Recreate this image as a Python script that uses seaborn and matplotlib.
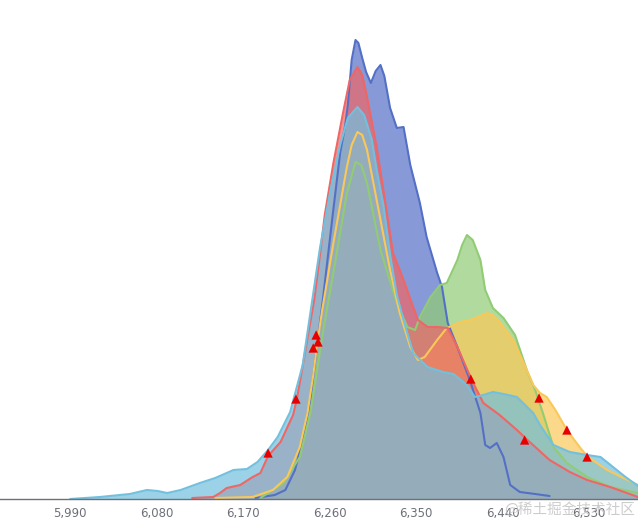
import numpy as np
import pandas as pd
import matplotlib
matplotlib.use('Agg')
import matplotlib.pyplot as plt
import seaborn as sns
from matplotlib.ticker import FuncFormatter

# series (x = value, y = frequency, arbitrary units)
blue_x = [6183, 6203, 6214, 6224, 6232, 6240, 6247, 6253, 6263, 6271, 6276, 6279, 6283, 6287, 6290,
          6294, 6298, 6303, 6308, 6313, 6317, 6323, 6330, 6337, 6344, 6354, 6361, 6372, 6377, 6383,
          6393, 6406, 6417, 6422, 6427, 6434, 6441, 6448, 6458, 6474, 6489]
blue_y = [0.2, 0.8, 1.8, 5.8, 11.8, 19.8, 30.8, 39.8, 56.4, 69.2, 74.4, 78.8, 87.8, 91.8, 91.2,
          88.2, 85.4, 83.2, 85.6, 86.8, 84.6, 78.2, 74.2, 74.4, 66.8, 59.2, 52.4, 45.2, 42.4, 35.2,
          30.4, 23.8, 17.2, 10.8, 10.2, 11.2, 8.4, 2.8, 1.4, 1.0, 0.6]

green_x = [6188, 6212, 6229, 6240, 6253, 6268, 6278, 6287, 6293, 6299, 6313, 6330, 6341, 6349, 6354,
           6365, 6375, 6382, 6393, 6398, 6403, 6409, 6417, 6422, 6430, 6441, 6453, 6466, 6474, 6482,
           6493, 6507, 6528, 6552, 6581]
green_y = [0.2, 3.2, 8.4, 17.2, 33.2, 49.8, 61.2, 67.4, 66.8, 63.2, 49.8, 39.2, 34.4, 33.8, 36.4,
           40.4, 42.8, 43.2, 47.8, 50.8, 52.8, 51.8, 47.8, 41.8, 38.2, 36.2, 32.8, 25.4, 21.8, 17.2,
           10.4, 7.2, 4.4, 2.4, 1.2]

yellow_x = [6141, 6180, 6201, 6216, 6229, 6237, 6243, 6247, 6252, 6264, 6278, 6283, 6289, 6294, 6299,
            6309, 6323, 6333, 6344, 6352, 6359, 6372, 6382, 6396, 6406, 6417, 6424, 6430, 6437, 6451,
            6463, 6472, 6479, 6486, 6495, 6507, 6521, 6529, 6549, 6581]
yellow_y = [0.2, 0.4, 1.8, 4.4, 10.4, 17.2, 24.8, 30.8, 37.4, 51.2, 66.4, 70.8, 73.4, 72.8, 69.8,
            59.8, 45.8, 37.2, 30.4, 27.8, 28.4, 31.8, 34.2, 35.4, 35.8, 36.6, 37.2, 36.8, 35.4, 31.8,
            26.8, 22.8, 21.2, 20.4, 17.8, 13.8, 10.2, 8.4, 5.8, 2.8]

red_x = [6117, 6139, 6146, 6153, 6167, 6180, 6188, 6196, 6209, 6222, 6226, 6238, 6244, 6250, 6255,
         6264, 6274, 6281, 6289, 6294, 6299, 6309, 6316, 6326, 6337, 6347, 6352, 6362, 6372, 6383,
         6393, 6408, 6420, 6437, 6455, 6466, 6489, 6510, 6528, 6552, 6581]
red_y = [0.2, 0.4, 1.2, 2.2, 2.8, 4.4, 5.2, 8.6, 11.4, 16.8, 20.0, 33.2, 39.8, 48.8, 56.8,
         67.2, 77.2, 83.8, 86.4, 84.8, 80.4, 70.4, 61.8, 49.2, 43.8, 38.4, 35.8, 34.4, 34.4, 34.2,
         30.4, 23.8, 19.2, 16.8, 13.8, 11.8, 7.8, 5.4, 3.8, 2.4, 0.4]

cyan_x = [5990, 6021, 6052, 6070, 6081, 6091, 6105, 6125, 6141, 6160, 6174, 6185, 6196, 6206, 6219,
          6232, 6242, 6250, 6261, 6271, 6279, 6289, 6296, 6304, 6309, 6316, 6323, 6330, 6337, 6347,
          6362, 6378, 6389, 6403, 6411, 6420, 6430, 6441, 6455, 6472, 6479, 6493, 6510, 6528, 6542,
          6555, 6568, 6581]
cyan_y = [0, 0.4, 1.0, 1.8, 1.6, 1.2, 1.8, 3.2, 4.2, 5.8, 6.0, 7.4, 9.8, 12.4, 17.4,
          26.8, 39.8, 50.2, 61.8, 70.8, 76.2, 78.4, 76.8, 71.8, 65.8, 58.8, 48.8, 40.8, 35.8, 29.2,
          26.4, 25.4, 25.0, 22.8, 20.4, 20.8, 21.4, 21.0, 20.4, 17.2, 14.8, 10.8, 9.4, 8.8, 8.4,
          6.4, 4.4, 2.6]

# red triangle markers
mark_x = [6196, 6225, 6243, 6246, 6248, 6407, 6463, 6478, 6507, 6528]
mark_y = [9.2, 20.0, 30.2, 32.8, 31.4, 24.0, 11.8, 20.2, 13.8, 8.4]

ticks = [5990, 6080, 6170, 6260, 6350, 6440, 6530]

series = [
    ('blue', blue_x, blue_y, '#5470c6'),
    ('green', green_x, green_y, '#91cc75'),
    ('yellow', yellow_x, yellow_y, '#fac858'),
    ('red', red_x, red_y, '#ee6666'),
    ('cyan', cyan_x, cyan_y, '#73c0de'),
]

sns.set_style('white')
plt.rcParams['font.family'] = ['DejaVu Sans', 'Noto Sans CJK SC']

fig = plt.figure(figsize=(6.38, 5.21), dpi=100)
ax = fig.add_axes([0, 22 / 521, 1, 1 - 22 / 521])

# areas first, in series order
for name, xs, ys, col in series:
    ax.fill_between(xs, ys, 0, color=col, alpha=0.7, linewidth=0, zorder=2)

# lines on top
for name, xs, ys, col in series:
    df = pd.DataFrame({'x': xs, 'y': ys})
    sns.lineplot(data=df, x='x', y='y', ax=ax, color=col, linewidth=1.5, sort=False, zorder=3)

sns.scatterplot(x=mark_x, y=mark_y, ax=ax, marker='^', color='#e60000', s=45,
                edgecolor='none', zorder=4)

ax.set_xlim(5917, 6581)
ax.set_ylim(0, 99.8)
ax.set_xticks(ticks)
ax.xaxis.set_major_formatter(FuncFormatter(lambda v, p: f'{int(v):,}'))
ax.set_yticks([])
ax.set_xlabel('')
ax.set_ylabel('')
for s in ['top', 'right', 'left']:
    ax.spines[s].set_visible(False)
ax.spines['bottom'].set_color('#6e7079')
ax.spines['bottom'].set_linewidth(1)
ax.spines['bottom'].set_zorder(5)
ax.tick_params(axis='x', colors='#6e7079', length=5, width=1, pad=1, labelsize=8.5, direction='out')
ax.tick_params(axis='x', labelcolor='#6e7079')
ax.patch.set_alpha(0)

fig.text(0.995, 0.008, '@稀土掘金技术社区', ha='right', va='bottom', fontsize=10.5,
         color='#c4c4c4', alpha=0.85, family=['Noto Sans CJK SC', 'DejaVu Sans'])

fig.savefig('out.png', dpi=100)
